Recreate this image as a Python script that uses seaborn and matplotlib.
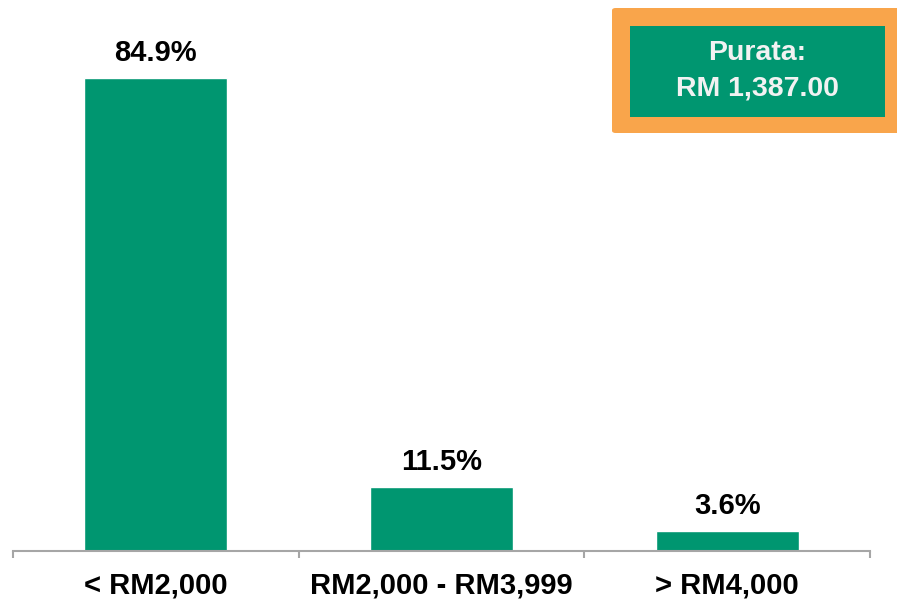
import matplotlib
matplotlib.use("Agg")
import matplotlib.pyplot as plt
from matplotlib.patches import FancyBboxPatch, Rectangle
import seaborn as sns
import pandas as pd

categories = ["< RM2,000", "RM2,000 - RM3,999", "> RM4,000"]
values = [84.9, 11.5, 3.6]
labels = ["84.9%", "11.5%", "3.6%"]
box_lines = ["Purata:", "RM 1,387.00"]

green = "#009670"
orange = "#F9A54B"
grey = "#A6A6A6"

sns.set_theme(style="white")
plt.rcParams["font.family"] = ["Liberation Sans", "DejaVu Sans"]

df = pd.DataFrame({"cat": categories, "val": values})

fig = plt.figure(figsize=(8.97, 6.05), dpi=100)
ax = fig.add_axes([13 / 897, 54 / 605, 857 / 897, 551 / 605])

sns.barplot(data=df, x="cat", y="val", color=green, width=0.5,
            saturation=1, ax=ax)

for c in ax.containers:
    ax.bar_label(c, labels=labels, padding=8, fontsize=21,
                 fontweight="bold", color="black")

ax.set_xlim(-0.5, 2.5)
ax.set_ylim(0, 551 / 5.57)
ax.set_xlabel("")
ax.set_ylabel("")
ax.set_yticks([])
for s in ["top", "right", "left"]:
    ax.spines[s].set_visible(False)
ax.spines["bottom"].set_color(grey)
ax.spines["bottom"].set_linewidth(1.5)

ax.set_xticks(range(len(categories)))
ax.set_xticklabels(categories, fontsize=21, fontweight="bold", color="black")
ax.set_xticks([-0.5, 0.5, 1.5, 2.5], minor=True)
ax.tick_params(axis="x", which="major", length=0, pad=14.5)
ax.tick_params(axis="x", which="minor", length=5, width=1.5,
               color=grey, bottom=True)

# summary box
fig.patches.append(FancyBboxPatch((612 / 897, 1 - 133 / 605), 300 / 897, 125 / 605,
                                  boxstyle="round,pad=0,rounding_size=0.004",
                                  transform=fig.transFigure, facecolor=orange,
                                  edgecolor="none", zorder=5))
fig.patches.append(Rectangle((630 / 897, 1 - 117 / 605), 255 / 897, 91 / 605,
                             transform=fig.transFigure, facecolor=green,
                             edgecolor="none", zorder=6))
fig.text(757 / 897, 1 - 53 / 605, box_lines[0], ha="center", va="center",
         fontsize=20.5, fontweight="bold", color="#F2F2F2", zorder=7)
fig.text(757 / 897, 1 - 89 / 605, box_lines[1], ha="center", va="center",
         fontsize=20.5, fontweight="bold", color="#F2F2F2", zorder=7)

fig.savefig("out.png", dpi=100)
